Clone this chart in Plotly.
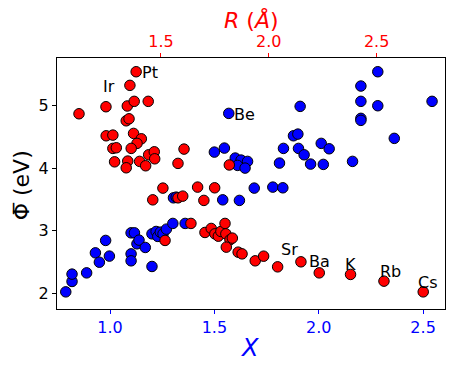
import plotly.graph_objects as go

# blue: electronegativity X vs mean work function
x_blue = [0.788, 0.818, 0.818, 0.888, 0.930, 0.949, 0.979, 0.997, 1.101, 1.101,
          1.101, 1.117, 1.129, 1.139, 1.169, 1.201, 1.201, 1.221, 1.229, 1.241,
          1.254, 1.270, 1.301, 1.360, 1.304, 1.317, 1.540, 1.620, 1.691, 1.780,
          1.828, 1.569, 1.500, 1.548, 1.600, 1.628, 1.659, 1.611, 1.647, 1.812,
          1.831, 1.879, 1.900, 1.911, 1.903, 1.930, 1.961, 2.012, 2.050, 2.022,
          2.162, 2.202, 2.202, 2.202, 2.202, 2.283, 2.283, 2.362, 2.543]
phi_blue = [2.027, 2.193, 2.310, 2.330, 2.649, 2.500, 2.847, 2.597, 2.633, 2.522,
            2.968, 2.968, 2.793, 2.852, 2.735, 2.432, 2.952, 2.990, 2.911, 2.979,
            2.952, 3.027, 3.118, 3.118, 3.526, 3.537, 3.494, 3.485, 3.681, 3.697,
            3.686, 4.872, 4.255, 4.319, 4.160, 4.128, 4.107, 4.043, 4.000, 4.080,
            4.314, 4.515, 4.542, 4.984, 4.314, 4.212, 4.064, 4.394, 4.308, 4.059,
            4.107, 5.308, 5.064, 4.793, 4.761, 5.536, 4.994, 4.474, 5.064]

# red: radius R vs mean work function
r_red = [1.385, 1.356, 1.120, 1.245, 1.344, 1.376, 1.441, 1.339, 1.352, 1.246,
         1.277, 1.373, 1.409, 1.389, 1.277, 1.293, 1.362, 1.443, 1.469, 1.471,
         1.285, 1.346, 1.339, 1.401, 1.429, 1.579, 1.607, 1.817, 1.509, 1.462,
         1.579, 1.601, 1.519, 1.670, 1.749, 1.699, 1.639, 1.704, 1.733, 1.750,
         1.766, 1.778, 1.797, 1.801, 1.820, 1.831, 1.803, 1.858, 1.876, 1.937,
         1.976, 2.041, 2.149, 2.234, 2.379, 2.534, 2.716]
phi_red = [5.536, 5.319, 4.866, 4.978, 4.990, 5.064, 5.064, 4.754, 4.786, 4.515,
           4.526, 4.553, 4.467, 4.394, 4.314, 4.324, 4.314, 4.212, 4.260, 4.148,
           4.100, 4.112, 4.005, 4.107, 4.037, 4.075, 4.303, 4.050, 3.681, 3.494,
           3.526, 3.553, 2.847, 3.697, 3.686, 3.485, 3.118, 2.974, 3.038, 2.952,
           2.915, 2.990, 3.118, 2.952, 2.857, 2.884, 2.740, 2.660, 2.633, 2.522,
           2.596, 2.426, 2.506, 2.330, 2.305, 2.198, 2.027]

red_labels = ["Pt", "Ir", "Sr", "Ba", "K", "Rb", "Cs"]
red_label_r = [1.450, 1.260, 2.095, 2.237, 2.381, 2.565, 2.739]
red_label_phi = [5.531, 5.303, 2.703, 2.517, 2.464, 2.346, 2.171]
blue_labels = ["Be"]
blue_label_x = [1.644]
blue_label_phi = [4.850]

font = "DejaVu Sans"
mk = dict(size=10.5, line=dict(color="black", width=1))

fig = go.Figure()
fig.add_trace(go.Scatter(x=x_blue, y=phi_blue, mode="markers",
                         marker=dict(color="blue", **mk), xaxis="x", yaxis="y"))
fig.add_trace(go.Scatter(x=r_red, y=phi_red, mode="markers",
                         marker=dict(color="red", **mk), xaxis="x2", yaxis="y"))

ann = []
for t, a, b in zip(red_labels, red_label_r, red_label_phi):
    ann.append(dict(x=a, y=b, xref="x2", yref="y", text=t, showarrow=False,
                    font=dict(family=font, size=16, color="black")))
for t, a, b in zip(blue_labels, blue_label_x, blue_label_phi):
    ann.append(dict(x=a, y=b, xref="x", yref="y", text=t, showarrow=False,
                    font=dict(family=font, size=16, color="black")))

# axis titles (page has an 8px body margin, so everything is shifted by 8)
ann.append(dict(x=0.5, y=1.151, xref="paper", yref="paper", text="<i>R</i> (<i>Å</i>)",
                xanchor="center", yanchor="middle",
                showarrow=False, font=dict(family=font, size=22, color="red")))
ann.append(dict(x=0.497, y=-0.155, xref="paper", yref="paper", text="<i>X</i>",
                xanchor="center", yanchor="middle",
                showarrow=False, font=dict(family=font, size=24, color="blue")))
ann.append(dict(x=-0.092, y=0.494, xref="paper", yref="paper", text="\u03a6\u0305 (eV)",
                xanchor="center", yanchor="middle",
                textangle=-90, showarrow=False, font=dict(family=font, size=22, color="black")))

fig.update_layout(
    width=457, height=370,
    margin=dict(l=49, r=20, t=50, b=69),
    plot_bgcolor="white", paper_bgcolor="white",
    showlegend=False,
    font=dict(family=font),
    annotations=ann,
    xaxis=dict(range=[0.746, 2.605], tickvals=[1.0, 1.5, 2.0, 2.5],
               ticktext=["1.0", "1.5", "2.0", "2.5"], automargin=False,
               ticks="outside", ticklen=4, tickcolor="blue",
               tickfont=dict(size=16, color="blue"),
               showline=True, linecolor="black", linewidth=1.2,
               showgrid=False, zeroline=False),
    xaxis2=dict(range=[1.018, 2.817], overlaying="x", side="top",
                tickvals=[1.5, 2.0, 2.5], ticktext=["1.5", "2.0", "2.5"], automargin=False,
                ticks="outside", ticklen=4, tickcolor="red",
                tickfont=dict(size=16, color="red"),
                showline=True, linecolor="black", linewidth=1.2,
                showgrid=False, zeroline=False),
    yaxis=dict(range=[1.754, 5.755], tickvals=[2, 3, 4, 5], automargin=False,
               ticks="outside", ticklen=4, tickcolor="black",
               tickfont=dict(size=16, color="black"),
               showline=True, mirror=True, linecolor="black", linewidth=1.2,
               showgrid=False, zeroline=False),
)

fig.write_html("out.html")
